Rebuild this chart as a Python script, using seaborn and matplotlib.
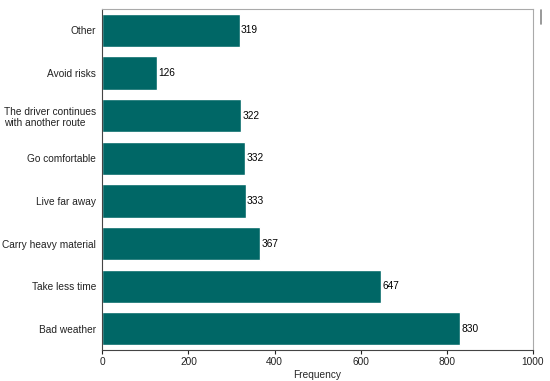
import matplotlib
matplotlib.use("Agg")
import matplotlib.pyplot as plt
from matplotlib.lines import Line2D
import seaborn as sns
import pandas as pd

# Chart data (top to bottom)
reasons = ["Other", "Avoid risks", "The driver continues\nwith another route",
           "Go comfortable", "Live far away", "Carry heavy material",
           "Take less time", "Bad weather"]
frequency = [319, 126, 322, 332, 333, 367, 647, 830]

BAR_COLOR = "#006766"
FS = 7.3

sns.set_style("white")
plt.rcParams['font.family'] = ['Liberation Sans', 'DejaVu Sans']
plt.rcParams['text.color'] = '#222222'
plt.rcParams['xtick.color'] = '#222222'
plt.rcParams['ytick.color'] = '#222222'

df = pd.DataFrame({"Reason": reasons, "Frequency": frequency})

fig = plt.figure(figsize=(5.5, 3.81), dpi=100)
ax = fig.add_axes([0.186, 0.081, 0.783, 0.895])

sns.barplot(data=df, x="Frequency", y="Reason", color=BAR_COLOR, saturation=1,
            width=0.78, ax=ax)

for i, v in enumerate(frequency):
    ax.text(v + 3, i, str(v), va="center", ha="left", fontsize=FS, color="black")

ax.set_xlim(0, 1000)
ax.set_ylim(len(reasons) - 0.5, -0.5)
ax.set_xticks([0, 200, 400, 600, 800, 1000])
ax.tick_params(axis="x", labelsize=FS, bottom=True, length=3, width=0.8, pad=2)
ax.tick_params(axis="y", labelsize=FS, left=False, pad=1)
for lbl in ax.get_yticklabels():
    lbl.set_multialignment("left")
ax.set_xlabel("Frequency", fontsize=FS, labelpad=2)
ax.set_ylabel("")

for side in ["left", "bottom"]:
    ax.spines[side].set_color("#444444")
    ax.spines[side].set_linewidth(0.8)
for side in ["top", "right"]:
    ax.spines[side].set_color("#aaaaaa")
    ax.spines[side].set_linewidth(0.8)

# small grey marker at the top right corner
fig.add_artist(Line2D([0.9845, 0.9845], [0.937, 0.975], color="#888888", linewidth=1.2))

fig.savefig("out.png", dpi=100)
